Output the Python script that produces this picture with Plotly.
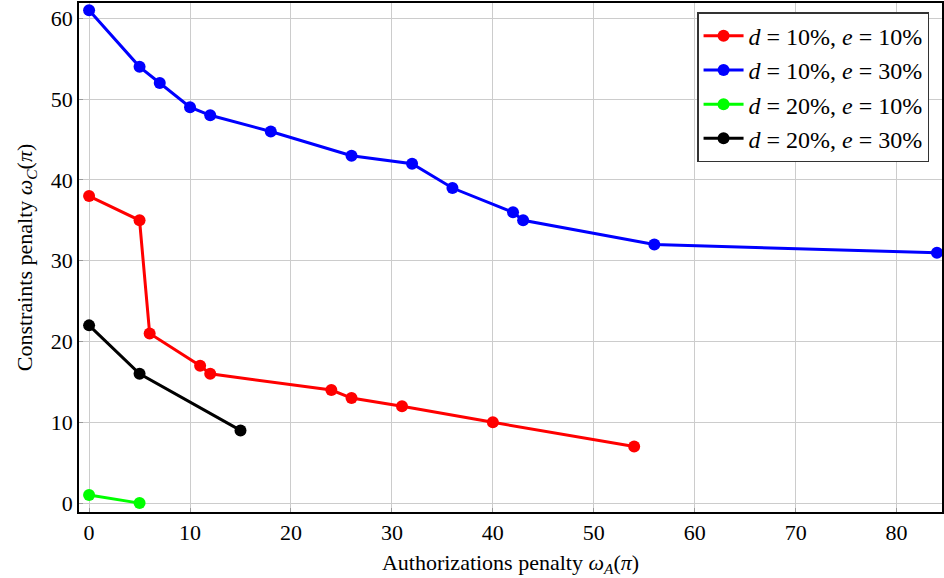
import plotly.graph_objects as go

red_x = [0, 5, 6, 11, 12, 24, 26, 31, 40, 54]
red_y = [38, 35, 21, 17, 16, 14, 13, 12, 10, 7]
blue_x = [0, 5, 7, 10, 12, 18, 26, 32, 36, 42, 43, 56, 84]
blue_y = [61, 54, 52, 49, 48, 46, 43, 42, 39, 36, 35, 32, 31]
green_x = [0, 5]
green_y = [1, 0]
black_x = [0, 5, 15]
black_y = [22, 16, 9]

series = [
    ("<i>d</i> = 10%, <i>e</i> = 10%", red_x, red_y, "#ff0000"),
    ("<i>d</i> = 10%, <i>e</i> = 30%", blue_x, blue_y, "#0000ff"),
    ("<i>d</i> = 20%, <i>e</i> = 10%", green_x, green_y, "#00ff00"),
    ("<i>d</i> = 20%, <i>e</i> = 30%", black_x, black_y, "#000000"),
]

fig = go.Figure()
for name, xs, ys, c in series:
    fig.add_trace(go.Scatter(x=xs, y=ys, name=name, mode="lines+markers",
                             line=dict(color=c, width=3),
                             marker=dict(color=c, size=12)))

font = "Liberation Serif, DejaVu Serif, serif"
fig.update_layout(
    width=944, height=578,
    margin=dict(l=79, r=0, t=3, b=66),
    paper_bgcolor="white", plot_bgcolor="white",
    font=dict(family=font, size=21, color="black"),
    showlegend=True,
    legend=dict(x=0.985, y=0.982, xanchor="right", yanchor="top",
                bordercolor="#333", borderwidth=1.5, bgcolor="white",
                font=dict(family=font, size=24), tracegroupgap=0,
                itemwidth=40),
    xaxis=dict(range=[-1, 84.5], tickvals=[0, 10, 20, 30, 40, 50, 60, 70, 80],
               tickfont=dict(family=font, size=22),
               showgrid=True, gridcolor="#cccccc", gridwidth=1,
               showline=True, linecolor="black", linewidth=1.5, mirror=True,
               zeroline=False, ticks="inside", ticklen=4, tickcolor="#999",
               title=dict(text="Authorizations penalty <i>ω</i><sub><i>A</i></sub>(<i>π</i>)",
                          font=dict(size=22), standoff=10)),
    yaxis=dict(range=[-1.1, 61.9], tickvals=[0, 10, 20, 30, 40, 50, 60],
               tickfont=dict(family=font, size=22),
               showgrid=True, gridcolor="#cccccc", gridwidth=1,
               showline=True, linecolor="black", linewidth=1.5, mirror=True,
               zeroline=False, ticks="inside", ticklen=4, tickcolor="#999",
               title=dict(text="Constraints penalty <i>ω</i><sub><i>C</i></sub>(<i>π</i>)",
                          font=dict(size=22), standoff=12)),
)

fig.write_html("out.html")
